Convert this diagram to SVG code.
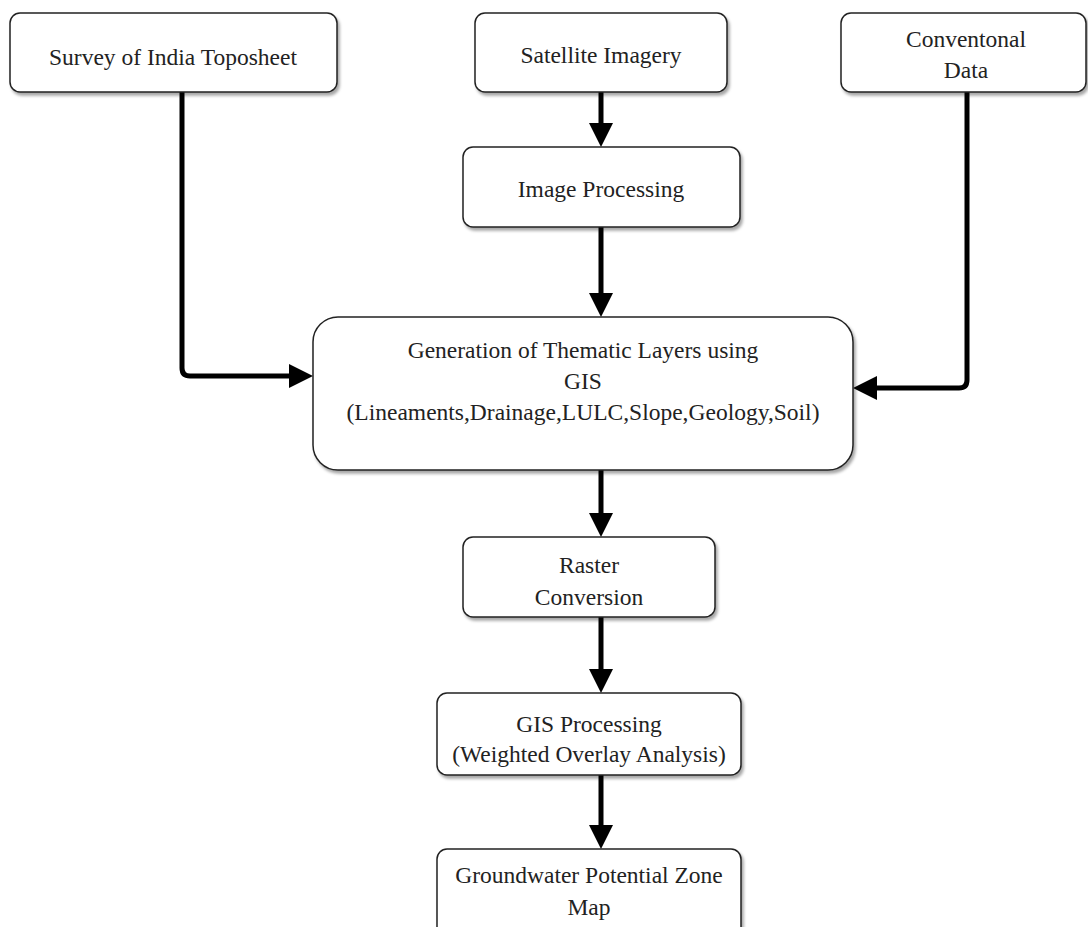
<svg xmlns="http://www.w3.org/2000/svg" width="1088" height="927" viewBox="0 0 1088 927">
<defs>
<filter id="sh" x="-5%" y="-5%" width="115%" height="125%">
<feDropShadow dx="2" dy="3" stdDeviation="1.5" flood-color="#000" flood-opacity="0.35"/>
</filter>
<marker id="ah" markerUnits="userSpaceOnUse" markerWidth="24" markerHeight="24" refX="4" refY="12" orient="auto">
<path d="M0,0 L24,12 L0,24 Z" fill="#000"/>
</marker>
</defs>
<style>
.box{fill:#fff;stroke:#222;stroke-width:1.5;filter:url(#sh)}
.t{font-family:"Liberation Serif","Times New Roman",serif;font-size:23.5px;fill:#222;text-anchor:middle}
.c{fill:none;stroke:#000;stroke-width:5;marker-end:url(#ah)}
</style>
<rect width="1088" height="927" fill="#fff"/>
<g id="connectors">
<path class="c" d="M601,92 V127"/>
<path class="c" d="M601,227 V297"/>
<path class="c" d="M601,470 V517"/>
<path class="c" d="M601,617 V673"/>
<path class="c" d="M601,775 V829"/>
<path class="c" d="M182,92 V368 Q182,376 190,376 H293"/>
<path class="c" d="M967,92 V380 Q967,388 959,388 H873"/>
</g>
<g id="survey">
<rect class="box" x="10" y="13" width="327" height="79" rx="10"/>
<text class="t" x="173" y="65">Survey of India Toposheet</text>
</g>
<g id="satellite">
<rect class="box" x="475" y="13" width="252" height="79" rx="10"/>
<text class="t" x="601" y="63">Satellite Imagery</text>
</g>
<g id="conventional">
<rect class="box" x="841" y="13" width="245" height="79" rx="10"/>
<text class="t" x="966" y="47">Conventonal</text>
<text class="t" x="966" y="78">Data</text>
</g>
<g id="imageproc">
<rect class="box" x="463" y="147" width="277" height="80" rx="10"/>
<text class="t" x="601" y="197">Image Processing</text>
</g>
<g id="thematic">
<rect class="box" x="313" y="317" width="540" height="153" rx="25"/>
<text class="t" x="583" y="358">Generation of Thematic Layers using</text>
<text class="t" x="583" y="389">GIS</text>
<text class="t" x="583" y="420">(Lineaments,Drainage,LULC,Slope,Geology,Soil)</text>
</g>
<g id="raster">
<rect class="box" x="463" y="537" width="252" height="80" rx="10"/>
<text class="t" x="589" y="573">Raster</text>
<text class="t" x="589" y="605">Conversion</text>
</g>
<g id="gisproc">
<rect class="box" x="437" y="693" width="304" height="82" rx="10"/>
<text class="t" x="589" y="732">GIS Processing</text>
<text class="t" x="589" y="762">(Weighted Overlay Analysis)</text>
</g>
<g id="groundwater">
<rect class="box" x="437" y="849" width="304" height="90" rx="10"/>
<text class="t" x="589" y="883">Groundwater Potential Zone</text>
<text class="t" x="589" y="915">Map</text>
</g>
</svg>
